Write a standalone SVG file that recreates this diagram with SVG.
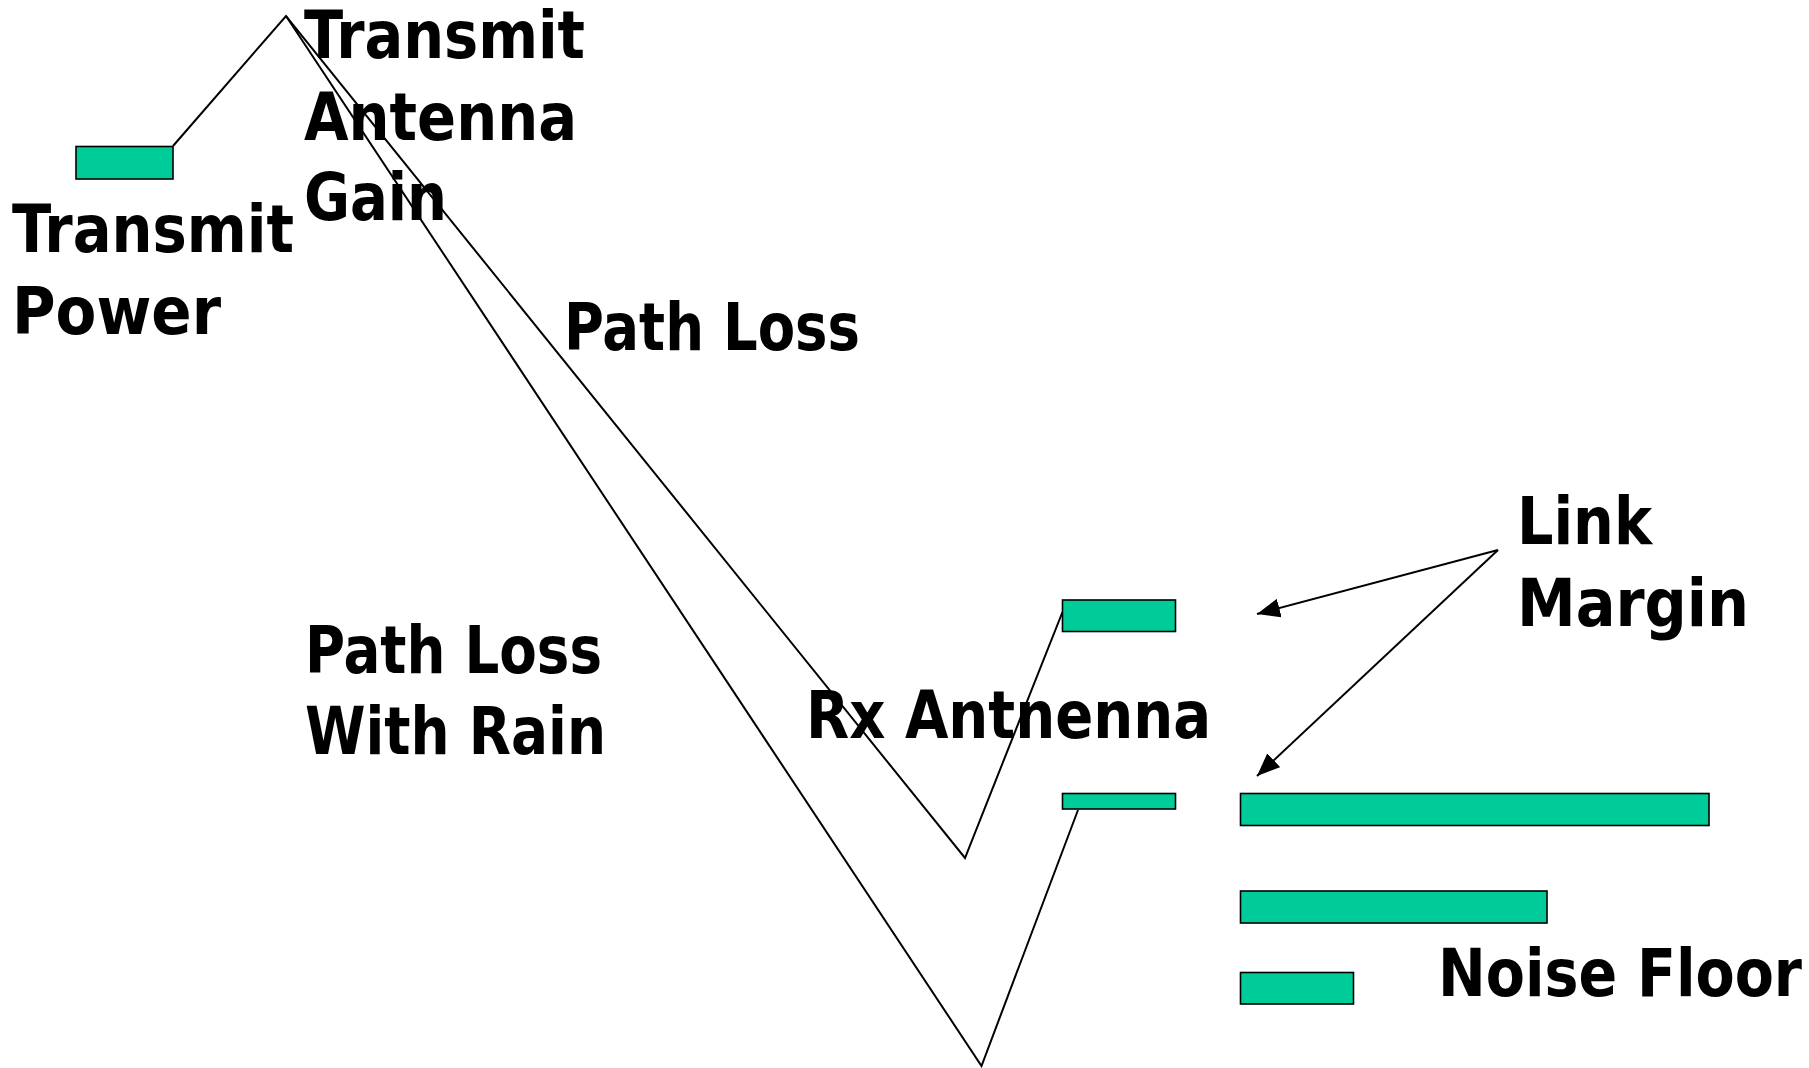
<svg xmlns="http://www.w3.org/2000/svg" width="1809" height="1068" viewBox="0 0 1809 1068">
<style>
.bar{fill:#00CC99;stroke:#000;stroke-width:1.6}
.ln{fill:none;stroke:#000;stroke-width:2}
.lbl{font-family:"DejaVu Sans Condensed","DejaVu Sans",sans-serif;font-weight:bold;font-stretch:condensed;font-size:65px;fill:#000}
</style>
<defs>
<marker id="ah" markerWidth="23" markerHeight="19" refX="23" refY="9.5" orient="auto" markerUnits="userSpaceOnUse">
<path d="M0,0 L23,9.5 L0,19 Z" fill="#000"/>
</marker>
</defs>
<rect width="1809" height="1068" fill="#fff"/>
<g id="connectors">
<polyline class="ln" points="173,146 286,16 965,858 1062.5,612"/>
<polyline class="ln" points="286,16 981.5,1066 1078,810"/>
<line class="ln" x1="1498" y1="550" x2="1257" y2="614" marker-end="url(#ah)"/>
<line class="ln" x1="1498" y1="550" x2="1257" y2="776" marker-end="url(#ah)"/>
</g>
<g id="tx-power"><rect class="bar" x="76" y="146.5" width="97" height="32.5"/>
<text class="lbl" x="12" y="252" textLength="282" lengthAdjust="spacingAndGlyphs">Transmit</text><text class="lbl" x="12" y="334" textLength="209" lengthAdjust="spacingAndGlyphs">Power</text></g>
<g id="tx-gain"><text class="lbl" x="304" y="58" textLength="281" lengthAdjust="spacingAndGlyphs">Transmit</text><text class="lbl" x="304" y="140" textLength="273" lengthAdjust="spacingAndGlyphs">Antenna</text><text class="lbl" x="304" y="220" textLength="143" lengthAdjust="spacingAndGlyphs">Gain</text></g>
<g id="path-loss"><text class="lbl" x="564" y="350" textLength="296" lengthAdjust="spacingAndGlyphs">Path Loss</text></g>
<g id="path-loss-rain"><text class="lbl" x="305" y="673" textLength="297" lengthAdjust="spacingAndGlyphs">Path Loss</text><text class="lbl" x="305" y="754" textLength="301" lengthAdjust="spacingAndGlyphs">With Rain</text></g>
<g id="rx-antenna"><rect class="bar" x="1062.5" y="600" width="113" height="31.5"/>
<rect class="bar" x="1062.5" y="793.5" width="113" height="15.5"/>
<text class="lbl" x="806" y="738" textLength="405" lengthAdjust="spacingAndGlyphs">Rx Antnenna</text></g>
<g id="link-margin"><text class="lbl" x="1517" y="544" textLength="135" lengthAdjust="spacingAndGlyphs">Link</text><text class="lbl" x="1517" y="626" textLength="232" lengthAdjust="spacingAndGlyphs">Margin</text></g>
<g id="noise-floor"><rect class="bar" x="1240.5" y="793.5" width="468.5" height="32"/>
<rect class="bar" x="1240.5" y="891" width="306.5" height="32"/>
<rect class="bar" x="1240.5" y="972.5" width="113" height="31.5"/>
<text class="lbl" x="1438" y="996" textLength="364" lengthAdjust="spacingAndGlyphs">Noise Floor</text></g>
</svg>
